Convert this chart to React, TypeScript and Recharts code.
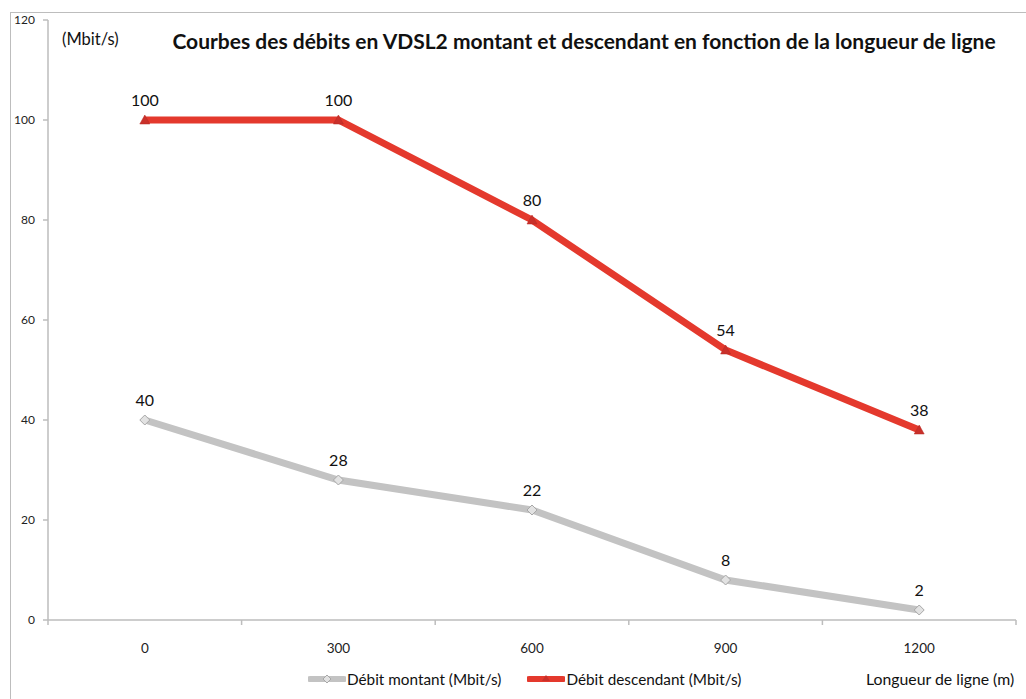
import React from "react";
import { LineChart, Line, XAxis, YAxis, LabelList } from "recharts";

const lengths = [0, 300, 600, 900, 1200];
const upstream = [40, 28, 22, 8, 2];
const downstream = [100, 100, 80, 54, 38];
const yTicks = [0, 20, 40, 60, 80, 100, 120];
const bandEdges = [-150, 150, 450, 750, 1050, 1350];

const seriesNames = ["Débit montant (Mbit/s)", "Débit descendant (Mbit/s)"];

const data = lengths.map((len, i) => ({
  len,
  up: upstream[i],
  down: downstream[i],
}));

const FONT = "Lato, 'Open Sans', sans-serif";
const RED = "#e4392d";
const GRAY = "#c3c3c3";
const AXIS = "#bdbdbd";

const XTick = (props: any) => {
  const { x, y, payload } = props;
  const v = payload.value;
  if (bandEdges.includes(v)) {
    return <line x1={x} x2={x} y1={y} y2={y + 5} stroke={AXIS} strokeWidth={1.5} />;
  }
  return (
    <text x={x} y={y + 33} textAnchor="middle" fontSize={13.5} fill="#222" fontFamily={FONT}>
      {v}
    </text>
  );
};

const Triangle = (props: any) => {
  const { cx, cy } = props;
  if (cx == null || cy == null) return null;
  return (
    <path
      d={`M${cx},${cy - 5} L${cx + 5},${cy + 4} L${cx - 5},${cy + 4} Z`}
      fill="#c9302a"
      stroke="#b72a24"
      strokeWidth={0.5}
    />
  );
};

const Diamond = (props: any) => {
  const { cx, cy } = props;
  if (cx == null || cy == null) return null;
  return (
    <path
      d={`M${cx},${cy - 5} L${cx + 5},${cy} L${cx},${cy + 5} L${cx - 5},${cy} Z`}
      fill="#e2e2e2"
      stroke="#a8a8a8"
      strokeWidth={1}
    />
  );
};

export default function App() {
  return (
    <div style={{ position: "absolute", left: 0, top: 0, width: 1026, height: 699, background: "#fff", fontFamily: FONT }}>
      <div
        style={{
          position: "absolute",
          left: 10,
          top: 12,
          width: 1016,
          height: 687,
          borderTop: `1px solid ${AXIS}`,
          borderLeft: `1px solid ${AXIS}`,
        }}
      />
      <LineChart
        width={1026}
        height={699}
        data={data}
        margin={{ top: 20, right: 10, left: 10, bottom: 49 }}
        style={{ position: "absolute", left: 0, top: 0 }}
      >
        <XAxis
          dataKey="len"
          type="number"
          domain={[-150, 1350]}
          ticks={[...bandEdges, ...lengths].sort((a, b) => a - b)}
          interval={0}
          tickLine={false}
          tickSize={0}
          tickMargin={0}
          height={30}
          axisLine={{ stroke: AXIS, strokeWidth: 1.5 }}
          tick={<XTick />}
        />
        <YAxis
          domain={[0, 120]}
          ticks={yTicks}
          interval={0}
          width={38}
          tickSize={5}
          tickMargin={8}
          tickLine={{ stroke: AXIS, strokeWidth: 1.5 }}
          axisLine={{ stroke: AXIS, strokeWidth: 1.5 }}
          tick={{ fontSize: 12, fill: "#222", fontFamily: FONT }}
        />
        <Line
          dataKey="up"
          name={seriesNames[0]}
          stroke={GRAY}
          strokeWidth={7}
          dot={<Diamond />}
          activeDot={false}
          isAnimationActive={false}
        >
          <LabelList dataKey="up" position="top" offset={14} fontSize={16} fill="#111" fontFamily={FONT} />
        </Line>
        <Line
          dataKey="down"
          name={seriesNames[1]}
          stroke={RED}
          strokeWidth={7}
          dot={<Triangle />}
          activeDot={false}
          isAnimationActive={false}
        >
          <LabelList dataKey="down" position="top" offset={14} fontSize={16} fill="#111" fontFamily={FONT} />
        </Line>
      </LineChart>

      <div style={{ position: "absolute", left: 62, top: 29, fontSize: 16.5, color: "#111" }}>(Mbit/s)</div>
      <div
        style={{
          position: "absolute",
          left: 170,
          width: 828,
          top: 28,
          textAlign: "center",
          fontSize: 21,
          fontWeight: 700,
          color: "#111",
          whiteSpace: "nowrap",
        }}
      >
        Courbes des débits en VDSL2 montant et descendant en fonction de la longueur de ligne
      </div>

      <div style={{ position: "absolute", left: 308, top: 670, display: "flex", alignItems: "center", fontSize: 15.3, color: "#111", whiteSpace: "nowrap" }}>
        <svg width={38} height={12}>
          <line x1={2} x2={36} y1={6} y2={6} stroke={GRAY} strokeWidth={6} strokeLinecap="round" />
          <path d="M19,2 L23,6 L19,10 L15,6 Z" fill="#e2e2e2" stroke="#a8a8a8" strokeWidth={1} />
        </svg>
        <span style={{ marginLeft: 1 }}>{seriesNames[0]}</span>
        <svg width={38} height={12} style={{ marginLeft: 26 }}>
          <line x1={2} x2={36} y1={6} y2={6} stroke={RED} strokeWidth={6} strokeLinecap="round" />
          <path d="M19,2 L23,8 L15,8 Z" fill="#c9302a" />
        </svg>
        <span style={{ marginLeft: 1 }}>{seriesNames[1]}</span>
      </div>

      <div style={{ position: "absolute", left: 866, top: 669, fontSize: 15.8, color: "#111", whiteSpace: "nowrap" }}>
        Longueur de ligne (m)
      </div>
    </div>
  );
}
